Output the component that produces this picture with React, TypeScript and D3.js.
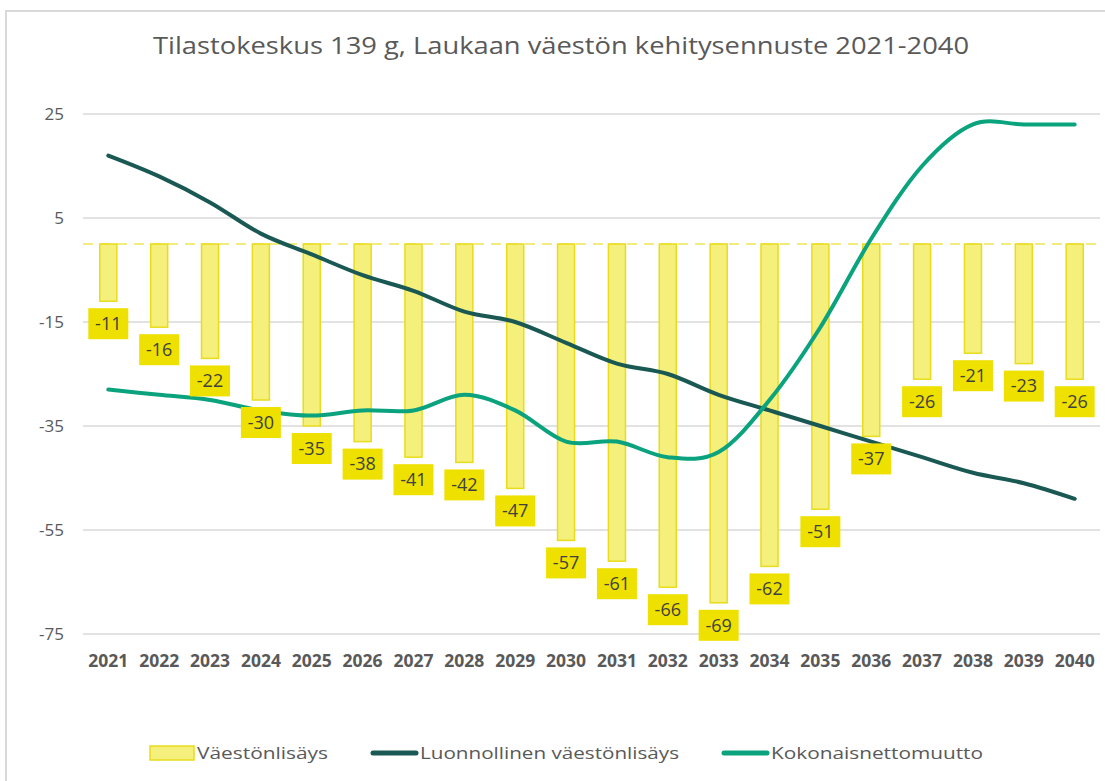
import React from "react";
import * as d3 from "d3";

const years = ["2021","2022","2023","2024","2025","2026","2027","2028","2029","2030","2031","2032","2033","2034","2035","2036","2037","2038","2039","2040"];
const vaestonlisays = [-11,-16,-22,-30,-35,-38,-41,-42,-47,-57,-61,-66,-69,-62,-51,-37,-26,-21,-23,-26];
const luonnollinen = [17,13,8,2,-2,-6,-9,-13,-15,-19,-23,-25,-29,-32,-35,-38,-41,-44,-46,-49];
const nettomuutto = [-28,-29,-30,-32,-33,-32,-32,-29,-32,-38,-38,-41,-40,-30,-16,1,15,23,23,23];
const yTicks = [25,5,-15,-35,-55,-75];
const title = "Tilastokeskus 139 g, Laukaan väestön kehitysennuste 2021-2040";
const legendItems = ["Väestönlisäys","Luonnollinen väestönlisäys","Kokonaisnettomuutto"];

const W = 1105, H = 781;
const FONT = "'Open Sans', 'Noto Sans', sans-serif";
const DARK = "#1A5953";
const GREEN = "#0AA37E";
const TEXT = "#595959";

export default function App() {
  const x = d3.scaleBand<string>().domain(years).range([83, 1100]).paddingInner(0.665).paddingOuter(0.33);
  const y = d3.scaleLinear().domain([-75, 25]).range([634, 114]);
  const cx = (yr: string) => (x(yr) as number) + x.bandwidth() / 2;
  const line = d3.line<number>().x((_, i) => cx(years[i])).y((d) => y(d)).curve(d3.curveCatmullRom.alpha(0));
  const y0 = y(0);

  return (
    <svg width={W} height={H} style={{ position: "absolute", left: 0, top: 0, background: "#fff" }} fontFamily={FONT}>
      <rect x={6} y={11} width={W + 10} height={H + 10} fill="#fff" stroke="#D9D9D9" strokeWidth={2} />
      <text x={561} y={54} textAnchor="middle" fontSize={23} fill={TEXT} textLength={816} lengthAdjust="spacingAndGlyphs">{title}</text>

      {yTicks.map((t) => (
        <g key={t}>
          <line x1={83} x2={1100} y1={y(t)} y2={y(t)} stroke="#D9D9D9" strokeWidth={1.5} />
          <text x={64} y={y(t)} dy="0.35em" textAnchor="end" fontSize={17} fill={TEXT}>{t}</text>
        </g>
      ))}

      <line x1={83} x2={1100} y1={y0} y2={y0} stroke="#F2EC7C" strokeWidth={2} strokeDasharray="10,7" />

      {years.map((yr, i) => (
        <rect key={yr} x={x(yr)} y={y0} width={x.bandwidth()} height={y(vaestonlisays[i]) - y0}
          fill="#F5EF7B" stroke="#E8DC1C" strokeWidth={1.5} />
      ))}

      <path d={line(luonnollinen) || ""} fill="none" stroke={DARK} strokeWidth={4} strokeLinecap="round" strokeLinejoin="round" />
      <path d={line(nettomuutto) || ""} fill="none" stroke={GREEN} strokeWidth={4} strokeLinecap="round" strokeLinejoin="round" />

      {years.map((yr, i) => {
        const top = y(vaestonlisays[i]) + 7;
        return (
          <g key={"l" + yr}>
            <rect x={cx(yr) - 20} y={top} width={40} height={31} fill="#EEE100" />
            <text x={cx(yr)} y={top + 15.5} dy="0.35em" textAnchor="middle" fontSize={18} fill="#404040">{vaestonlisays[i]}</text>
          </g>
        );
      })}

      {years.map((yr) => (
        <text key={"x" + yr} x={cx(yr)} y={667} textAnchor="middle" fontSize={17.5} fontWeight="bold" fill={TEXT}>{yr}</text>
      ))}

      <g>
        <rect x={150} y={746} width={44} height={14} fill="#F5EF7B" stroke="#E8DC1C" strokeWidth={1.5} />
        <text x={197} y={759} fontSize={17} fill={TEXT} textLength={131} lengthAdjust="spacingAndGlyphs">{legendItems[0]}</text>
        <line x1={373} x2={416} y1={753} y2={753} stroke={DARK} strokeWidth={5} strokeLinecap="round" />
        <text x={420} y={759} fontSize={17} fill={TEXT} textLength={259} lengthAdjust="spacingAndGlyphs">{legendItems[1]}</text>
        <line x1={724} x2={767} y1={753} y2={753} stroke={GREEN} strokeWidth={5} strokeLinecap="round" />
        <text x={771} y={759} fontSize={17} fill={TEXT} textLength={212} lengthAdjust="spacingAndGlyphs">{legendItems[2]}</text>
      </g>
    </svg>
  );
}
